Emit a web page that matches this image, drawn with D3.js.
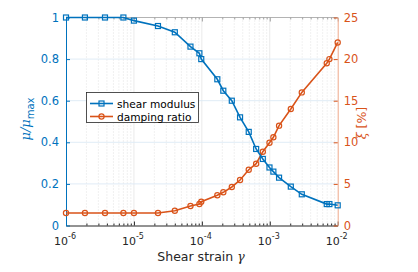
<!DOCTYPE html>
<html><head><meta charset="utf-8">
<script src="https://cdn.jsdelivr.net/npm/d3@7/dist/d3.min.js"></script>
<style>body{margin:0;background:#fff}svg text{font-family:"DejaVu Sans",sans-serif}</style>
</head><body><svg id="c" width="418" height="272"></svg>
<script>
const strain = [1e-6,1.9e-6,3.75e-6,7e-6,1e-5,2.26e-5,4e-5,6.8e-5,9.2e-5,9.8e-5,1.69e-4,2.07e-4,2.76e-4,3.65e-4,4.9e-4,6.3e-4,7.9e-4,9.9e-4,1.13e-3,1.37e-3,2.04e-3,2.96e-3,6.9e-3,7.55e-3,1e-2];
const modulus = [1,1,1,1,0.985,0.959,0.929,0.86,0.828,0.80,0.703,0.648,0.60,0.52,0.45,0.368,0.32,0.279,0.259,0.23,0.187,0.15,0.103,0.103,0.097];
const damping = [1.5,1.5,1.5,1.5,1.5,1.5,1.78,2.34,2.58,2.86,3.63,3.99,4.63,5.47,6.7,7.43,8.87,9.95,10.6,12.0,14.0,16.0,19.5,20.0,22.0];
const xTicks = [1e-6,1e-5,1e-4,1e-3,1e-2];
const yLeftTicks = [0,0.2,0.4,0.6,0.8,1];
const yRightTicks = [0,5,10,15,20,25];
const legendLabels = ["shear modulus","damping ratio"];

const blue="#0072BD", orange="#D95319";
const L=66, R=337.7, T=17.5, B=225.5;
const svg=d3.select("#c");
const x=d3.scaleLog().domain([1e-6,1e-2]).range([L,R]);
const yl=d3.scaleLinear().domain([0,1]).range([B,T]);
const yr=d3.scaleLinear().domain([0,25]).range([B,T]);

// minor grid
const minor=[];
for(let e=-6;e<-2;e++) for(let m=2;m<=9;m++) minor.push(m*Math.pow(10,e));
const g=svg.append("g");
g.selectAll(".mg").data(minor).enter().append("line")
 .attr("x1",d=>x(d)).attr("x2",d=>x(d)).attr("y1",T).attr("y2",B)
 .attr("stroke","#d0d0d0").attr("stroke-width",0.6).attr("stroke-dasharray","1,2");
g.selectAll(".xg").data(xTicks.slice(1,-1)).enter().append("line")
 .attr("x1",d=>x(d)).attr("x2",d=>x(d)).attr("y1",T).attr("y2",B)
 .attr("stroke","#e4e4e4").attr("stroke-width",0.8);
g.selectAll(".yg").data(yLeftTicks.slice(1,-1)).enter().append("line")
 .attr("x1",L).attr("x2",R).attr("y1",d=>yl(d)).attr("y2",d=>yl(d))
 .attr("stroke","#ddeaf5").attr("stroke-width",0.9);

// top border
svg.append("line").attr("x1",L).attr("x2",R).attr("y1",T).attr("y2",T).attr("stroke","#a0a0a0").attr("stroke-width",0.8);

// axes
const xAx=svg.append("g").attr("transform",`translate(0,${B})`)
 .call(d3.axisBottom(x).tickValues(xTicks).tickFormat("").tickSizeInner(-4).tickSizeOuter(0));
xAx.select(".domain").attr("stroke","#262626");
xAx.selectAll(".tick line").attr("stroke","#262626");
const xMin=svg.append("g").attr("transform",`translate(0,${B})`)
 .call(d3.axisBottom(x).tickValues(minor).tickFormat("").tickSizeInner(-2).tickSizeOuter(0));
xMin.select(".domain").remove(); xMin.selectAll(".tick line").attr("stroke","#262626");
const xTop=svg.append("g").attr("transform",`translate(0,${T})`)
 .call(d3.axisTop(x).tickValues(xTicks).tickFormat("").tickSizeInner(-4).tickSizeOuter(0));
xTop.select(".domain").remove(); xTop.selectAll(".tick line").attr("stroke","#a0a0a0");
const xTopMin=svg.append("g").attr("transform",`translate(0,${T})`)
 .call(d3.axisTop(x).tickValues(minor).tickFormat("").tickSizeInner(-2).tickSizeOuter(0));
xTopMin.select(".domain").remove(); xTopMin.selectAll(".tick line").attr("stroke","#a0a0a0");

// x tick labels with superscripts
const xl=svg.append("g");
xTicks.forEach(t=>{
  const e=Math.round(Math.log10(t));
  const tx=xl.append("text").attr("x",x(t)-12).attr("y",B+19).attr("text-anchor","start")
   .attr("font-size",11).attr("fill","#262626");
  tx.append("tspan").text("10");
  tx.append("tspan").attr("dy",-6).attr("font-size",8).text(e);
});

const yAx=svg.append("g").attr("transform",`translate(${L},0)`)
 .call(d3.axisLeft(yl).tickValues(yLeftTicks).tickFormat(d3.format("~g")).tickSizeInner(-4).tickSizeOuter(0).tickPadding(7));
yAx.select(".domain").attr("stroke",blue);
yAx.selectAll(".tick line").attr("stroke",blue);
yAx.selectAll("text").attr("fill",blue).attr("font-size",11.5).attr("font-family","DejaVu Sans");

const yAx2=svg.append("g").attr("transform",`translate(${R},0)`)
 .call(d3.axisRight(yr).tickValues(yRightTicks).tickSizeInner(-4).tickSizeOuter(0).tickPadding(6));
yAx2.select(".domain").attr("stroke","#eea98a");
yAx2.selectAll(".tick line").attr("stroke",orange);
yAx2.selectAll("text").attr("fill",orange).attr("font-size",11.5).attr("font-family","DejaVu Sans");

// lines
const data=strain.map((s,i)=>({s,m:modulus[i],d:damping[i]}));
svg.append("path").datum(data).attr("fill","none").attr("stroke",orange).attr("stroke-width",1.6)
 .attr("d",d3.line().x(d=>x(d.s)).y(d=>yr(d.d)));
svg.selectAll(".oc").data(data).enter().append("circle")
 .attr("cx",d=>x(d.s)).attr("cy",d=>yr(d.d)).attr("r",2.6)
 .attr("fill","none").attr("stroke",orange).attr("stroke-width",1.2);
svg.append("path").datum(data).attr("fill","none").attr("stroke",blue).attr("stroke-width",1.6)
 .attr("d",d3.line().x(d=>x(d.s)).y(d=>yl(d.m)));
svg.selectAll(".bs").data(data).enter().append("rect")
 .attr("x",d=>x(d.s)-2.5).attr("y",d=>yl(d.m)-2.5).attr("width",5).attr("height",5)
 .attr("fill","none").attr("stroke",blue).attr("stroke-width",1.2);

// axis labels
svg.append("text").attr("x",201).attr("y",261).attr("text-anchor","middle").attr("font-size",12.5).attr("fill","#262626")
 .html('Shear strain <tspan font-family="DejaVu Serif" font-style="italic">γ</tspan>');
const yt=svg.append("text").attr("transform","translate(30,119) rotate(-90)").attr("text-anchor","middle")
 .attr("font-size",13).attr("fill",blue);
yt.append("tspan").attr("font-family","DejaVu Serif").attr("font-style","italic").text("μ/μ");
yt.append("tspan").attr("dy",4).attr("font-size",10).text("max");
svg.append("text").attr("transform","translate(366,123) rotate(-90)").attr("text-anchor","middle")
 .attr("font-size",12.5).attr("fill",orange)
 .html('<tspan font-family="DejaVu Serif" font-style="italic">ξ</tspan> [%]');

// legend
const lg=svg.append("g");
lg.append("rect").attr("x",86.5).attr("y",92.5).attr("width",112).attr("height",30)
 .attr("fill","#fff").attr("stroke","#262626").attr("stroke-width",0.8);
[blue,orange].forEach((c,i)=>{
  const yy=103.5+i*13;
  lg.append("line").attr("x1",90).attr("x2",113).attr("y1",yy).attr("y2",yy).attr("stroke",c).attr("stroke-width",1.6);
  if(i===0) lg.append("rect").attr("x",99).attr("y",yy-2.5).attr("width",5).attr("height",5).attr("fill","none").attr("stroke",c).attr("stroke-width",1.2);
  else lg.append("circle").attr("cx",101.5).attr("cy",yy).attr("r",2.6).attr("fill","none").attr("stroke",c).attr("stroke-width",1.2);
  lg.append("text").attr("x",117).attr("y",yy+4).attr("font-size",10.6).attr("fill","#000").text(legendLabels[i]);
});
</script></body></html>
